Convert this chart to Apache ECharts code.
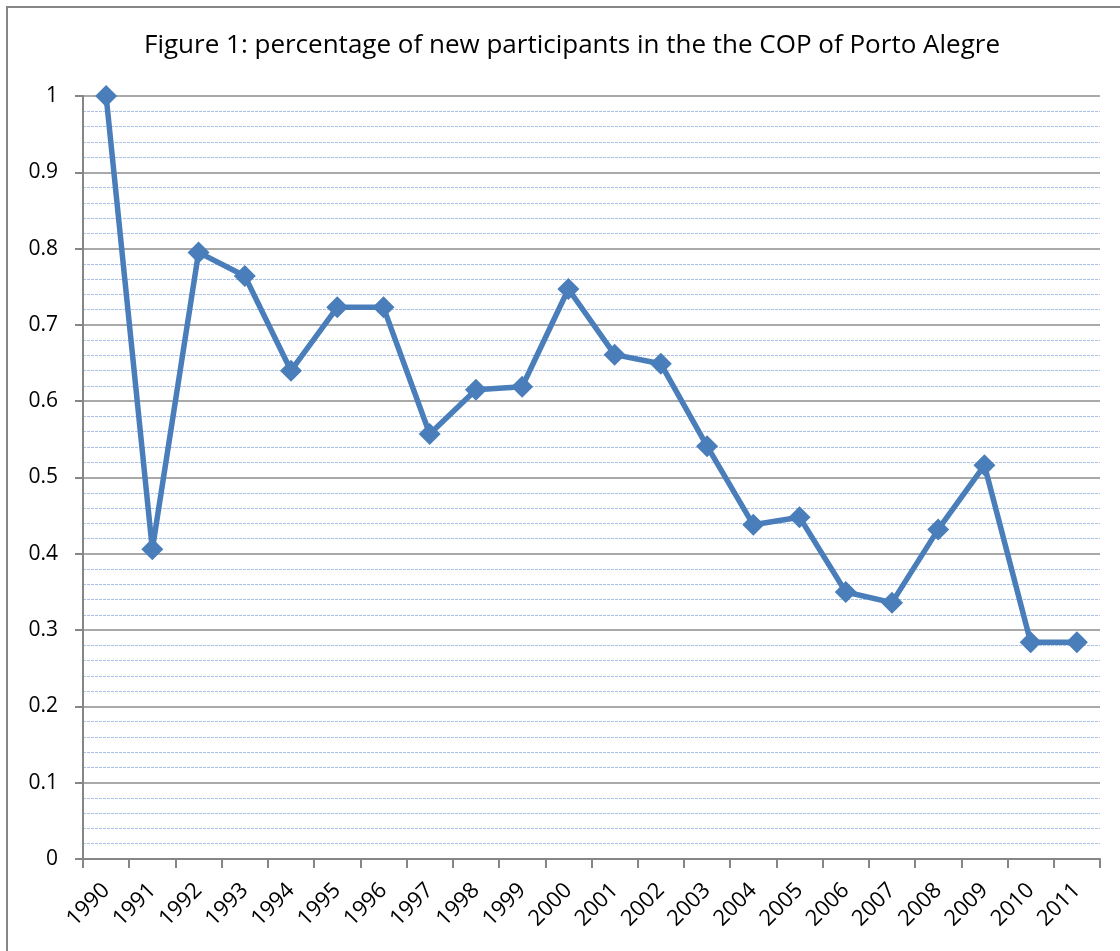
<!DOCTYPE html>
<html>
<head>
    <meta charset="utf-8">
    <title>COP Porto Alegre</title>
    <script src="https://cdn.jsdelivr.net/npm/echarts@6/dist/echarts.min.js"></script>
    <style>
        html, body { height: 100%; margin: 0; padding: 0; background: #fff; }
    </style>
</head>
<body>
<div id="chart-box" style="width:1120px; height:951px;"></div>
<script type="text/javascript">
    const years = ["1990","1991","1992","1993","1994","1995","1996","1997","1998","1999","2000",
                   "2001","2002","2003","2004","2005","2006","2007","2008","2009","2010","2011"];
    const share = [1.0, 0.406, 0.795, 0.764, 0.640, 0.723, 0.723, 0.557, 0.615, 0.619, 0.747,
                   0.661, 0.649, 0.541, 0.438, 0.448, 0.350, 0.336, 0.432, 0.516, 0.284, 0.284];

    const chart = echarts.init(document.getElementById("chart-box"));
    const font = "'Open Sans', 'Noto Sans', sans-serif";

    const option = {
        animation: false,
        title: {
            text: "Figure 1: percentage of new participants in the the COP of Porto Alegre",
            left: 567,
            top: 28,
            textAlign: "center",
            textStyle: { fontFamily: font, fontSize: 26, fontWeight: "normal", color: "#000" }
        },
        graphic: [{
            type: "rect",
            shape: { x: 7, y: 7, width: 1140, height: 980 },
            style: { fill: "none", stroke: "#868686", lineWidth: 2 },
            silent: true
        }],
        grid: { left: 83, right: 20, top: 96, bottom: 92 },
        xAxis: {
            type: "category",
            data: years,
            boundaryGap: true,
            axisLine: { lineStyle: { color: "#868686", width: 2 } },
            axisTick: { show: true, alignWithLabel: false, length: 9, lineStyle: { color: "#868686", width: 2 } },
            axisLabel: { rotate: 45, interval: 0, margin: 28, fontFamily: font, fontSize: 22, color: "#000" },
            splitLine: { show: false }
        },
        yAxis: {
            type: "value",
            min: 0,
            max: 1,
            interval: 0.1,
            axisLine: { show: true, lineStyle: { color: "#868686", width: 2 } },
            axisTick: { show: true, length: 8, lineStyle: { color: "#868686", width: 2 } },
            axisLabel: { margin: 25, fontFamily: font, fontSize: 21, color: "#000" },
            splitLine: { show: true, lineStyle: { color: "#8c8c8c", width: 1.5 } },
            minorTick: { show: false, splitNumber: 5 },
            minorSplitLine: { show: true, lineStyle: { color: "#a9c2e4", width: 1, type: [3, 1] } }
        },
        series: [{
            type: "line",
            data: share,
            symbol: "diamond",
            symbolSize: 22,
            lineStyle: { color: "#4a7ebb", width: 5.5 },
            itemStyle: { color: "#4a7ebb" }
        }]
    };
    chart.setOption(option);
</script>
</body>
</html>
